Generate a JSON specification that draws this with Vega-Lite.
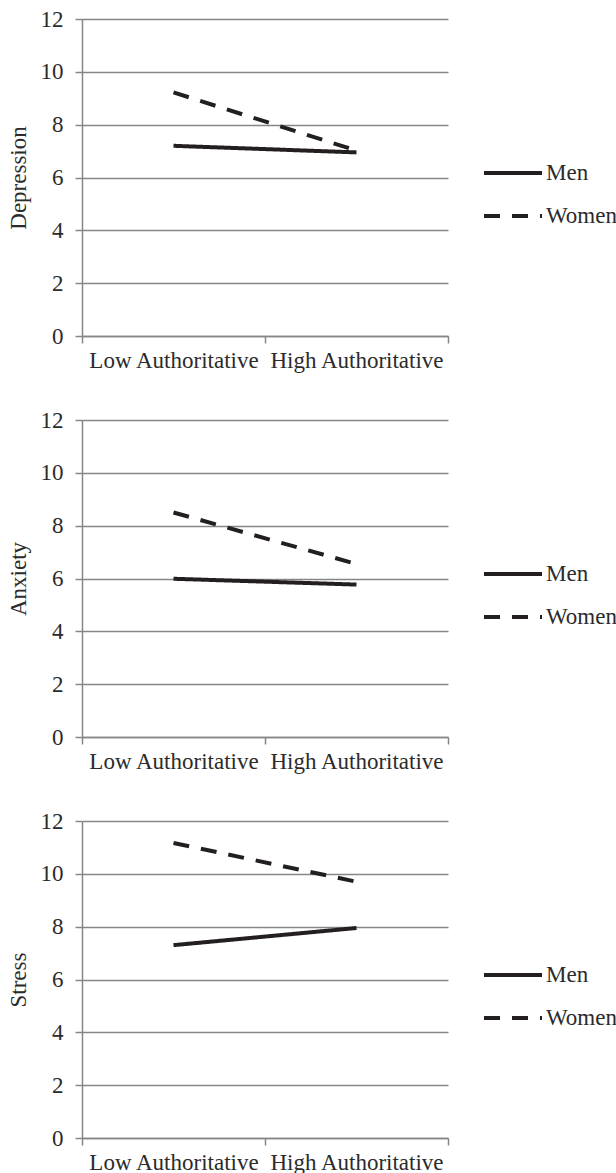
{
  "$schema": "https://vega.github.io/schema/vega-lite/v6.json",
  "padding": {"left": 7, "top": 8, "right": 0, "bottom": 0},
  "background": "white",
  "datasets": {
    "depression": [
      {"level": "Low Authoritative", "gender": "Men", "value": 7.2},
      {"level": "High Authoritative", "gender": "Men", "value": 6.95},
      {"level": "Low Authoritative", "gender": "Women", "value": 9.22},
      {"level": "High Authoritative", "gender": "Women", "value": 7.02}
    ],
    "anxiety": [
      {"level": "Low Authoritative", "gender": "Men", "value": 5.99},
      {"level": "High Authoritative", "gender": "Men", "value": 5.77},
      {"level": "Low Authoritative", "gender": "Women", "value": 8.5},
      {"level": "High Authoritative", "gender": "Women", "value": 6.55}
    ],
    "stress": [
      {"level": "Low Authoritative", "gender": "Men", "value": 7.3},
      {"level": "High Authoritative", "gender": "Men", "value": 7.95},
      {"level": "Low Authoritative", "gender": "Women", "value": 11.17},
      {"level": "High Authoritative", "gender": "Women", "value": 9.7}
    ]
  },
  "spacing": 37,
  "vconcat": [
    {
      "data": {"name": "depression"},
      "width": 366, "height": 317,
      "mark": {"type": "line", "strokeWidth": 4, "color": "#231f20", "strokeCap": "butt"},
      "encoding": {
        "x": {"field": "level", "type": "nominal", "bandPosition": 0.5, "sort": ["Low Authoritative", "High Authoritative"], "scale": {"type": "band", "paddingInner": 0, "paddingOuter": 0}, "axis": {"title": null}},
        "y": {"field": "value", "type": "quantitative", "scale": {"domain": [0, 12]}, "axis": {"values": [0, 2, 4, 6, 8, 10, 12], "title": "Depression"}},
        "strokeDash": {"field": "gender", "type": "nominal", "scale": {"domain": ["Men", "Women"], "range": [[1, 0], [16, 12]]}, "legend": {"title": null, "orient": "none", "legendX": 400, "legendY": 123}}
      }
    },
    {
      "data": {"name": "anxiety"},
      "width": 366, "height": 317,
      "mark": {"type": "line", "strokeWidth": 4, "color": "#231f20", "strokeCap": "butt"},
      "encoding": {
        "x": {"field": "level", "type": "nominal", "bandPosition": 0.5, "sort": ["Low Authoritative", "High Authoritative"], "scale": {"type": "band", "paddingInner": 0, "paddingOuter": 0}, "axis": {"title": null}},
        "y": {"field": "value", "type": "quantitative", "scale": {"domain": [0, 12]}, "axis": {"values": [0, 2, 4, 6, 8, 10, 12], "title": "Anxiety"}},
        "strokeDash": {"field": "gender", "type": "nominal", "scale": {"domain": ["Men", "Women"], "range": [[1, 0], [16, 12]]}, "legend": {"title": null, "orient": "none", "legendX": 400, "legendY": 123}}
      }
    },
    {
      "data": {"name": "stress"},
      "width": 366, "height": 317,
      "mark": {"type": "line", "strokeWidth": 4, "color": "#231f20", "strokeCap": "butt"},
      "encoding": {
        "x": {"field": "level", "type": "nominal", "bandPosition": 0.5, "sort": ["Low Authoritative", "High Authoritative"], "scale": {"type": "band", "paddingInner": 0, "paddingOuter": 0}, "axis": {"title": null}},
        "y": {"field": "value", "type": "quantitative", "scale": {"domain": [0, 12]}, "axis": {"values": [0, 2, 4, 6, 8, 10, 12], "title": "Stress"}},
        "strokeDash": {"field": "gender", "type": "nominal", "scale": {"domain": ["Men", "Women"], "range": [[1, 0], [16, 12]]}, "legend": {"title": null, "orient": "none", "legendX": 400, "legendY": 123}}
      }
    }
  ],
  "resolve": {"scale": {"strokeDash": "independent", "x": "independent", "y": "independent"}, "legend": {"strokeDash": "independent"}},
  "config": {
    "view": {"stroke": null},
    "font": "Liberation Serif",
    "axis": {
      "labelFont": "Liberation Serif", "labelFontSize": 23, "labelColor": "#2b2b2b",
      "titleFont": "Liberation Serif", "titleFontSize": 23, "titleFontWeight": "normal", "titleColor": "#2b2b2b",
      "domainColor": "#868686", "domainWidth": 1.5, "tickColor": "#868686", "tickWidth": 1.5, "tickSize": 7,
      "gridColor": "#868686", "gridWidth": 1.5
    },
    "axisX": {"grid": false, "tickBand": "extent", "labelPadding": 6, "labelAngle": 0},
    "axisY": {"grid": true, "labelPadding": 12, "titlePadding": 10},
    "legend": {
      "labelFont": "Liberation Serif", "labelFontSize": 23, "labelColor": "#2b2b2b",
      "symbolType": "stroke", "symbolSize": 3364, "symbolStrokeWidth": 4, "symbolStrokeColor": "#231f20",
      "labelOffset": 2, "rowPadding": -2, "padding": 0
    }
  }
}
